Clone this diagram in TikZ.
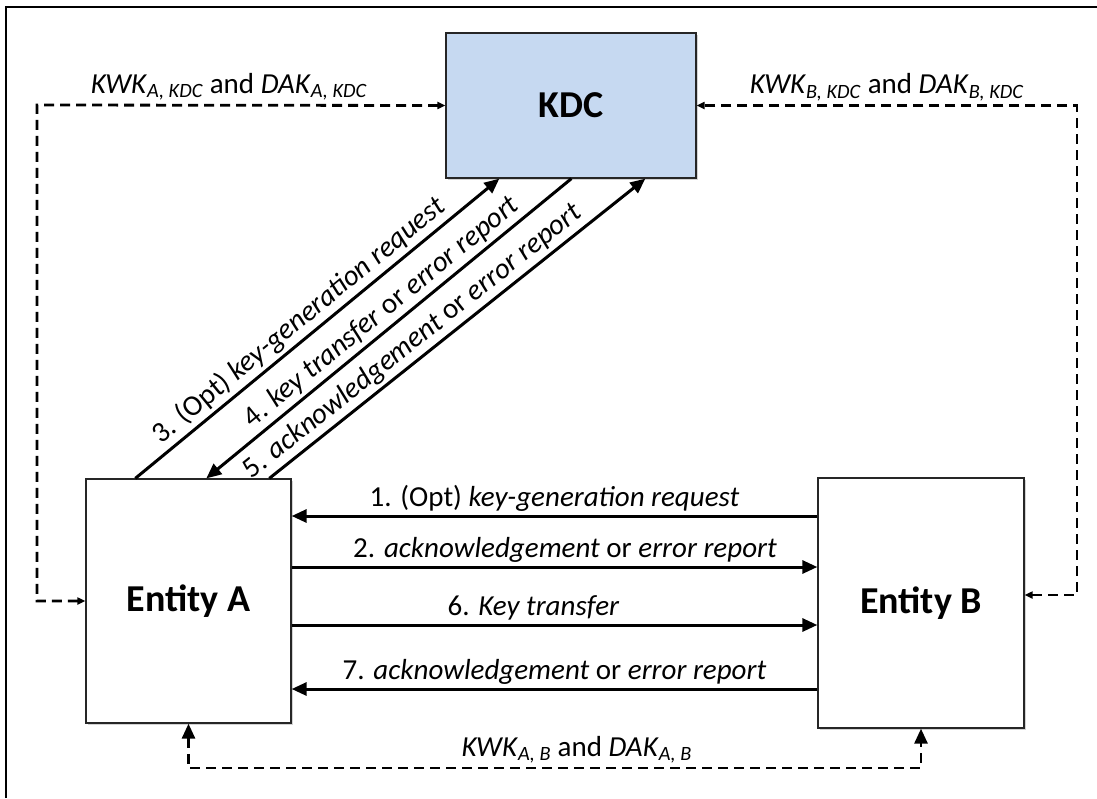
\documentclass[tikz,border=0pt]{standalone}
\usepackage{fontspec}
\setmainfont{Carlito}
\usetikzlibrary{arrows.meta, shadows}
\definecolor{kdcblue}{RGB}{198,217,241}
\newcommand\keyname[2]{\textit{#1}\textsubscript{\textit{#2}}}

\begin{document}
\begin{tikzpicture}[x=1pt, y=-1pt,
  box/.style = {draw=black!85, line width=1.3pt, font=\fontsize{38}{40}\selectfont\bfseries,
    drop shadow={shadow xshift=2pt, shadow yshift=-2pt, opacity=.35}},
  msg/.style = {line width=3pt, -{Triangle[length=15pt, width=13pt]}},
  key/.style = {line width=2.8pt, dash pattern=on 10pt off 6pt},
  small tips/.style = {{Triangle[length=8pt, width=7pt]}-{Triangle[length=8pt, width=7pt]}},
  big tips/.style = {{Triangle[length=15pt, width=13pt]}-{Triangle[length=15pt, width=13pt]}},
  lbl/.style = {font=\fontsize{29}{31}\selectfont}]
\useasboundingbox (0,0) rectangle (1097,798);
\draw[line width=2.2pt] (6,798) -- (6,7) -- (1097,7);

\node[box, fill=kdcblue, minimum width=250pt, minimum height=145pt] (kdc) at (571,105.5) {KDC};
\node[box, fill=white, minimum width=205pt, minimum height=244pt] (A) at (188.5,601) {Entity A};
\node[box, fill=white, minimum width=206pt, minimum height=250pt] (B) at (921,603) {Entity B};

\draw[msg] ([xshift=50pt]A.north west) -- node[lbl, above, sloped, pos=.48]{3. (Opt) \textit{key-generation request}} ([xshift=54pt]kdc.south west);
\draw[msg] ([xshift=126pt]kdc.south west) -- node[lbl, above, sloped, pos=.49]{4. \textit{key transfer} or \textit{error report}} ([xshift=121pt]A.north west);
\draw[msg] ([xshift=184pt]A.north west) -- node[lbl, above, sloped, pos=.41]{5. \textit{acknowledgement} or \textit{error report}} ([xshift=200pt]kdc.south west);

\draw[msg] (B.west |- 0,516) -- node[lbl, above]{1. (Opt) \textit{key-generation request}} (A.east |- 0,516);
\draw[msg] (A.east |- 0,567) -- node[lbl, above, pos=.52]{2. \textit{acknowledgement} or \textit{error report}} (B.west |- 0,567);
\draw[msg] (A.east |- 0,625) -- node[lbl, above, pos=.46]{6. \textit{Key transfer}} (B.west |- 0,625);
\draw[msg] (B.west |- 0,689) -- node[lbl, above]{7. \textit{acknowledgement} or \textit{error report}} (A.east |- 0,689);

\draw[key, small tips] (A.west) -| (37,105) -- node[lbl, above, pos=.47]{\keyname{KWK}{A, KDC} and \keyname{DAK}{A, KDC}} (kdc.west);
\draw[key, small tips] (B.east |- 0,595) -- (1077,595) |- node[lbl, above, pos=.75]{\keyname{KWK}{B, KDC} and \keyname{DAK}{B, KDC}} (kdc.east);
\draw[key, big tips] (A.south) -- (A.south |- 0,768) -- node[lbl, above, pos=.53]{\keyname{KWK}{A, B} and \keyname{DAK}{A, B}} (B.south |- 0,768) -- (B.south);
\end{tikzpicture}
\end{document}
